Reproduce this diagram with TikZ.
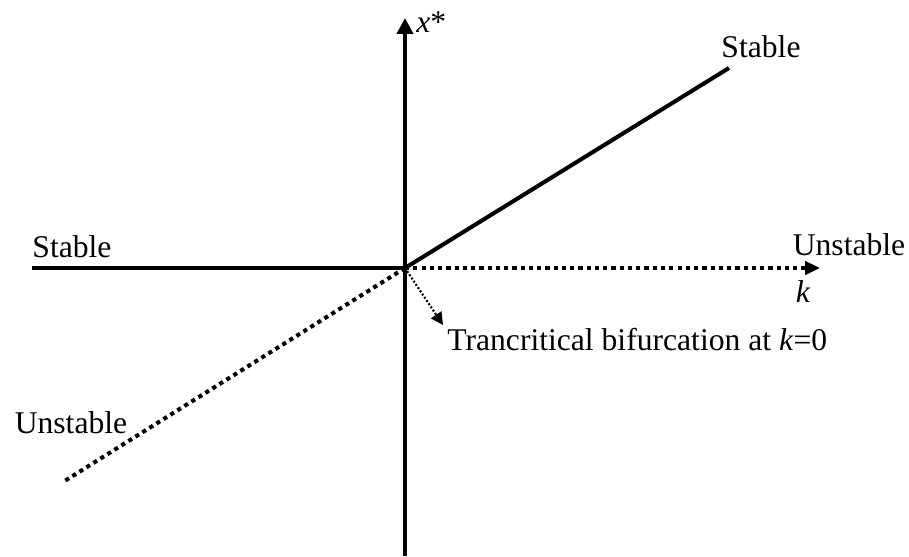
\documentclass[tikz,border=0pt]{standalone}
\usepackage{fontspec}
\setmainfont{Liberation Serif}
\usetikzlibrary{arrows.meta}

\begin{document}
\begin{tikzpicture}[x=0.02cm,y=0.02cm,>=Stealth,
    every node/.style={font=\fontsize{18}{21}\selectfont},
    solidbranch/.style={line width=2.3pt},
    dotbranch/.style={line width=2.3pt,dash pattern=on 2.4pt off 2.3pt},
    thintip/.style={line width=1.2pt,dash pattern=on 1.1pt off 1.1pt}]
  \useasboundingbox (0,0) rectangle (909,556);

  % axes
  \coordinate (O) at (405,288);
  \coordinate (ybot) at (405,0);
  \coordinate (ytop) at (405,538);
  \coordinate (xleft) at (32,288);
  \coordinate (xright) at (820,288);
  \draw[solidbranch,-{Triangle[length=9pt,width=9pt]}] (ybot) -- (ytop);
  \node[anchor=base west,inner sep=0pt] (xlab) at (416,524) {\textit{x}*};

  % x* = 0 branch
  \draw[solidbranch] (xleft) -- (O);
  \draw[dotbranch,-{Triangle[length=8.5pt,width=7.5pt]}] (O) -- (xright);
  \node (klab) at (803,264) {\textit{k}};

  % x* = k branch
  \coordinate (up) at (729,488);
  \coordinate (down) at (63,74);
  \draw[solidbranch] (O) -- (up);
  \draw[dotbranch] (O) -- (down);

  % stability labels
  \node (s1) at (761,509) {Stable};
  \node (s2) at (72,309) {Stable};
  \node (u1) at (849,311) {Unstable};
  \node (u2) at (71,133) {Unstable};

  % bifurcation point
  \coordinate (biftip) at (443,231);
  \node[anchor=base west,inner sep=0pt] (bif) at (447,206) {Trancritical bifurcation at \textit{k}=0};
  \draw[thintip,-{Triangle[length=7pt,width=7pt]}] (O) -- (biftip);
\end{tikzpicture}
\end{document}
